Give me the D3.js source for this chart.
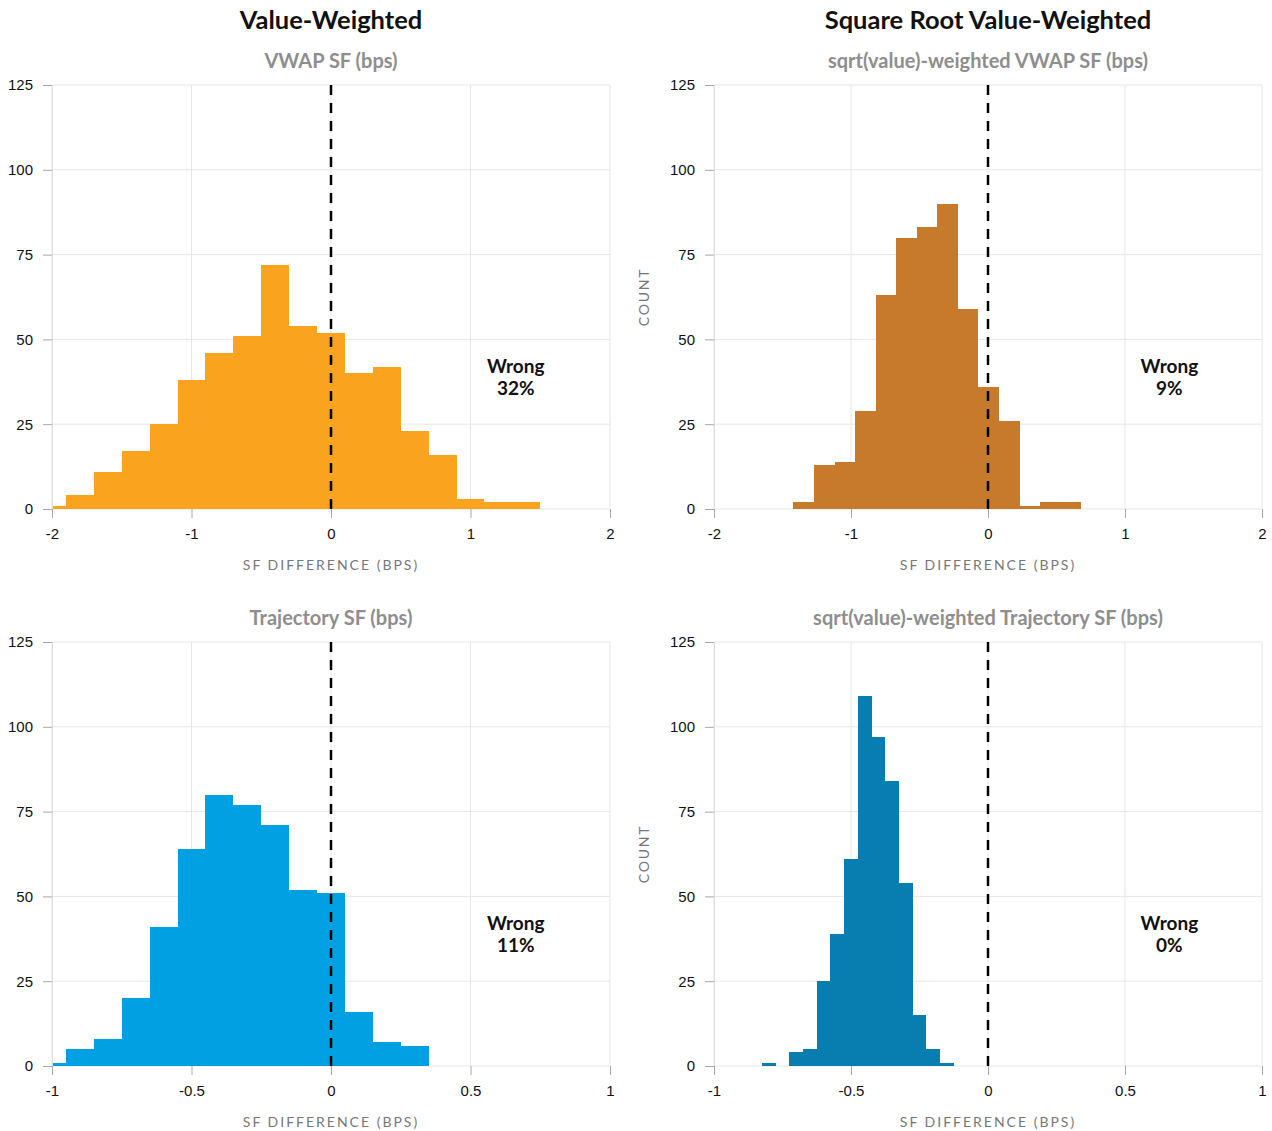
<!DOCTYPE html>
<html><head><meta charset="utf-8">
<script src="https://cdn.jsdelivr.net/npm/d3@7"></script>
<style>body{margin:0;background:#fff}svg{display:block}</style>
</head><body><svg id="chart" width="1272" height="1131"></svg>
<script>
// ---- data ----
const columnTitles = ["Value-Weighted", "Square Root Value-Weighted"];
const panelTitles = ["VWAP SF (bps)", "sqrt(value)-weighted VWAP SF (bps)", "Trajectory SF (bps)", "sqrt(value)-weighted Trajectory SF (bps)"];
const wrongPct = ["32%", "9%", "11%", "0%"];
const yTicks = [0, 25, 50, 75, 100, 125];
const xTicksTop = [-2, -1, 0, 1, 2];
const xTicksBottom = [-1, -0.5, 0, 0.5, 1];
const xTitle = "SF DIFFERENCE (BPS)";
const yTitle = "COUNT";

const vwapEdges = [-2.0, -1.9, -1.7, -1.5, -1.3, -1.1, -0.9, -0.7, -0.5, -0.3, -0.1, 0.1, 0.3, 0.5, 0.7, 0.9, 1.1, 1.3, 1.5];
const vwapCounts = [1, 4, 11, 17, 25, 38, 46, 51, 72, 54, 52, 40, 42, 23, 16, 3, 2, 2];

const sqrtVwapEdges = [-1.42, -1.27, -1.12, -0.97, -0.82, -0.67, -0.52, -0.37, -0.22, -0.07, 0.08, 0.23, 0.38, 0.53, 0.68];
const sqrtVwapCounts = [2, 13, 14, 29, 63, 80, 83, 90, 59, 36, 26, 1, 2, 2];

const trajEdges = [-1.0, -0.95, -0.85, -0.75, -0.65, -0.55, -0.45, -0.35, -0.25, -0.15, -0.05, 0.05, 0.15, 0.25, 0.35];
const trajCounts = [1, 5, 8, 20, 41, 64, 80, 77, 71, 52, 51, 16, 7, 6];

const sqrtTrajEdges = [-0.825, -0.775, -0.725, -0.675, -0.625, -0.575, -0.525, -0.475, -0.425, -0.375, -0.325, -0.275, -0.225, -0.175, -0.125];
const sqrtTrajCounts = [1, 0, 4, 5, 25, 39, 61, 109, 97, 84, 54, 15, 5, 1];

const colors = ["#F9A31E", "#C77A2B", "#00A0E3", "#087DB0"];

// ---- layout ----
const svg = d3.select("#chart");
const cols = [{x0: 52, x1: 610}, {x0: 714, x1: 1262}];
const rows = [{y0: 85, y1: 509}, {y0: 642, y1: 1066}];

const panels = [
  {c: 0, r: 0, edges: vwapEdges, counts: vwapCounts, dom: [-2, 2], ticks: xTicksTop, title: panelTitles[0], wrong: wrongPct[0], color: colors[0], count: false},
  {c: 1, r: 0, edges: sqrtVwapEdges, counts: sqrtVwapCounts, dom: [-2, 2], ticks: xTicksTop, title: panelTitles[1], wrong: wrongPct[1], color: colors[1], count: true},
  {c: 0, r: 1, edges: trajEdges, counts: trajCounts, dom: [-1, 1], ticks: xTicksBottom, title: panelTitles[2], wrong: wrongPct[2], color: colors[2], count: false},
  {c: 1, r: 1, edges: sqrtTrajEdges, counts: sqrtTrajCounts, dom: [-1, 1], ticks: xTicksBottom, title: panelTitles[3], wrong: wrongPct[3], color: colors[3], count: true}
];

const fontMain = "Lato, 'Open Sans', sans-serif";
const fontTick = "'Liberation Sans', Arial, sans-serif";

// column titles
columnTitles.forEach((t, i) => {
  svg.append("text")
    .attr("x", (cols[i].x0 + cols[i].x1) / 2)
    .attr("y", 29)
    .attr("text-anchor", "middle")
    .attr("font-family", fontMain)
    .attr("font-weight", 700)
    .attr("font-size", 25.5)
    .attr("fill", "#111")
    .text(t);
});

panels.forEach(p => {
  const {x0, x1} = cols[p.c];
  const {y0, y1} = rows[p.r];
  const xs = d3.scaleLinear().domain(p.dom).range([x0, x1]);
  const ys = d3.scaleLinear().domain([0, 125]).range([y1, y0]);
  const g = svg.append("g");

  // subtitle
  g.append("text")
    .attr("x", (x0 + x1) / 2)
    .attr("y", y0 - 17)
    .attr("text-anchor", "middle")
    .attr("font-family", fontMain)
    .attr("font-weight", 700)
    .attr("font-size", 20)
    .attr("fill", "#8e8e8e")
    .text(p.title);

  // grid
  g.selectAll(".vg").data(p.ticks).join("line")
    .attr("x1", d => xs(d)).attr("x2", d => xs(d))
    .attr("y1", y0).attr("y2", y1)
    .attr("stroke", "#e6e6e6").attr("stroke-width", 1);
  g.selectAll(".hg").data(yTicks).join("line")
    .attr("x1", x0).attr("x2", x1)
    .attr("y1", d => ys(d)).attr("y2", d => ys(d))
    .attr("stroke", "#e6e6e6").attr("stroke-width", 1);

  // bars
  const bins = p.counts.map((c, i) => ({a: p.edges[i], b: p.edges[i + 1], c})).filter(d => d.c > 0);
  g.selectAll(".bar").data(bins).join("rect")
    .attr("x", d => xs(d.a))
    .attr("width", d => xs(d.b) - xs(d.a))
    .attr("y", d => ys(d.c))
    .attr("height", d => ys(0) - ys(d.c))
    .attr("fill", p.color)
    .attr("shape-rendering", "crispEdges");

  // y axis
  const yAxis = d3.axisLeft(ys).tickValues(yTicks).tickSize(9).tickPadding(10).tickFormat(d3.format("d"));
  const ya = g.append("g").attr("transform", `translate(${x0},0)`).call(yAxis);
  ya.select(".domain").attr("stroke", "#dedede");
  ya.selectAll(".tick line").attr("stroke", "#a8a8a8");
  ya.selectAll(".tick text").attr("font-family", fontTick).attr("font-size", 15).attr("fill", "#111");

  // x axis
  const xAxis = d3.axisBottom(xs).tickValues(p.ticks).tickSize(9).tickPadding(10).tickFormat(d => String(d));
  const xa = g.append("g").attr("transform", `translate(0,${y1})`).call(xAxis);
  xa.select(".domain").remove();
  xa.selectAll(".tick line").attr("stroke", "#a8a8a8");
  xa.selectAll(".tick text").attr("font-family", fontTick).attr("font-size", 15).attr("fill", "#111");

  // zero dashed line
  g.append("line")
    .attr("x1", xs(0)).attr("x2", xs(0))
    .attr("y1", y0).attr("y2", y1)
    .attr("stroke", "#000").attr("stroke-width", 2.5)
    .attr("stroke-dasharray", "10,8");

  // x title
  g.append("text")
    .attr("x", (x0 + x1) / 2)
    .attr("y", y1 + 61)
    .attr("text-anchor", "middle")
    .attr("font-family", fontMain)
    .attr("font-size", 14)
    .attr("letter-spacing", 2)
    .attr("fill", "#777")
    .text(xTitle);

  // y title
  if (p.count) {
    g.append("text")
      .attr("transform", `translate(${x0 - 65},${(y0 + y1) / 2}) rotate(-90)`)
      .attr("text-anchor", "middle")
      .attr("font-family", fontMain)
      .attr("font-size", 14)
      .attr("letter-spacing", 1.8)
      .attr("fill", "#777")
      .text(yTitle);
  }

  // Wrong label
  const wx = x0 + 0.831 * (x1 - x0);
  const wt = g.append("text")
    .attr("text-anchor", "middle")
    .attr("font-family", fontMain)
    .attr("font-weight", 700)
    .attr("font-size", 19)
    .attr("fill", "#111");
  wt.append("tspan").attr("x", wx).attr("y", y0 + 288).text("Wrong");
  wt.append("tspan").attr("x", wx).attr("y", y0 + 310).text(p.wrong);
});
</script>
</body></html>
